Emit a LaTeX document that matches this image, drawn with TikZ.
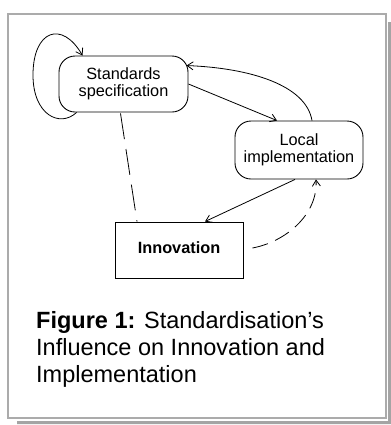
\documentclass[tikz,border=0pt]{standalone}
\usepackage{fontspec}
\setmainfont{Liberation Sans}
\usetikzlibrary{arrows.meta,calc}
\definecolor{framegray}{HTML}{ABABAB}
\definecolor{shadowgray}{HTML}{A4A4A4}
\begin{document}
\begin{tikzpicture}[x=1bp,y=-1bp,
  boxfont/.style={font=\fontsize{16.3bp}{17.5bp}\selectfont},
  rbox/.style={draw,line width=0.9bp,rounded corners=16bp,minimum width=129bp,minimum height=56bp,inner sep=0pt,align=center,boxfont},
  sbox/.style={draw,line width=0.9bp,minimum width=128bp,minimum height=56bp,inner sep=0pt,align=center,font=\bfseries\fontsize{16.3bp}{17.5bp}\selectfont},
  conn/.style={line width=0.8bp,-{Straight Barb[length=6bp,width=8bp,line width=0.8bp]}},
  dashlong/.style={line width=0.8bp,dash pattern=on 26bp off 10bp},
  dashshort/.style={line width=0.8bp,dash pattern=on 16bp off 8bp}
]
\fill[white] (0,0) rectangle (391,425);
\useasboundingbox (0,0) rectangle (391,425);
% shadow
\fill[shadowgray] (388,22) -- (391,22) -- (391,424) -- (17,424) -- (17,421) -- (388,421) -- cycle;
% frame
\draw[framegray,line width=2bp] (8.3,14) rectangle (385.7,418);

\node[rbox] (std) at (123.5,84) {Standards\\specification};
\node[rbox,minimum width=128bp,minimum height=58bp] (loc) at (299,150) {Local\\implementation};
\node[sbox] (inn) at (179,250) {\raisebox{4bp}{Innovation}};

% self loop
\coordinate (lpS) at ($(std.south west)+(18,0)$);
\coordinate (lpE) at ($(std.north west)+(24,0)$);
\draw[conn] (lpS) .. controls (60,128) and (33,115) .. (33,75)
  .. controls (33,30) and (62,20) .. (lpE);

% standards -> local
\draw[conn] (std.east) -- ($(loc.north)+(-22,0)$);
% local -> standards
\coordinate (a3) at ($(loc.north)+(13,0)$);
\coordinate (b3) at ($(std.north east)+(-2,10)$);
\draw[conn] (a3) .. controls (306,85) and (250,68) .. (b3);
% local -> innovation
\draw[conn] ($(loc.south)+(-4,0)$) -- ($(inn.north)+(26,0)$);
% dashed innovation -> local
\coordinate (a5) at ($(inn.east)+(9,-2)$);
\draw[conn,dashshort] (a5) .. controls (285,242) and (318,215) .. ($(loc.south)+(17,0)$);
% dashed standards - innovation
\draw[dashlong] ($(std.south)+(-3,1)$) -- ($(inn.north)+(-42,0)$);

\node[anchor=base west,inner sep=0pt,align=left,font=\fontsize{23.5bp}{27bp}\selectfont] (cap) at (36,382)
  {\textbf{Figure 1:} Standardisation’s\\Influence on Innovation and\\Implementation};
\end{tikzpicture}
\end{document}
